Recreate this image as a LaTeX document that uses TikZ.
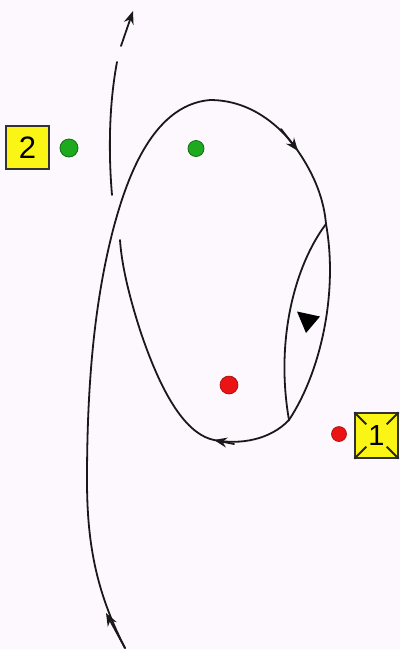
\documentclass[tikz,border=0pt]{standalone}
\usepackage{fontspec}
\setmainfont{Liberation Sans}
\usetikzlibrary{arrows.meta}
\definecolor{bgc}{RGB}{253,248,253}
\definecolor{ylw}{RGB}{250,245,20}
\definecolor{grn}{RGB}{30,170,30}
\definecolor{dgrn}{RGB}{20,110,20}
\definecolor{rd}{RGB}{235,20,20}
\definecolor{drd}{RGB}{160,10,10}
\tikzset{
  traj/.style={line width=1.8pt, black!90, line cap=round, line join=round},
  tipped/.style={traj, -{Stealth[length=13pt,width=10pt]}},
  ybox/.style={draw=black!80, line width=1.4pt, fill=ylw, minimum width=43pt, minimum height=43pt, inner sep=0pt, font=\fontsize{31}{31}\selectfont},
  gdot/.style={circle, fill=grn, draw=dgrn, line width=0.8pt, inner sep=0pt, minimum size=#1},
  rdot/.style={circle, fill=rd, draw=drd, line width=0.6pt, inner sep=0pt, minimum size=#1},
}
\begin{document}
\begin{tikzpicture}[x=1pt,y=-1pt]
\fill[bgc] (0,0) rectangle (400,649);
\useasboundingbox (0,0) rectangle (400,649);

% named points of the track
\coordinate (start) at (125,648);
\coordinate (a1) at (106,613);
\coordinate (cross) at (113,230);
\coordinate (top) at (210,100);
\coordinate (a2) at (298,151);
\coordinate (sailtop) at (326,224);
\coordinate (sailbot) at (289,420);
\coordinate (a3) at (214,440);
\coordinate (under1) at (120,240);
\coordinate (under2) at (112,195);
\coordinate (gapend) at (117,62);
\coordinate (tipstart) at (121,46);
\coordinate (tip) at (133,11);

% incoming track
\draw[traj] (start) .. controls (95,590) and (87,540) .. (87,480)
  .. controls (87,380) and (95,300) .. (cross)
  .. controls (125,185) and (150,105) .. (top)
  .. controls (250,100) and (280,125) .. (a2)
  .. controls (315,176) and (324,200) .. (sailtop);
\draw[tipped] (start) -- (a1);
\draw[tipped] (281,129) -- (a2);

% sail
\draw[traj] (sailtop) .. controls (338,290) and (322,370) .. (sailbot);
\draw[traj] (sailtop) .. controls (295,265) and (275,340) .. (sailbot);
\fill (297,311.5) -- (320,316.5) -- (306,333) -- cycle;

% outgoing track (passes under the incoming one)
\draw[traj] (sailbot) .. controls (270,440) and (240,445) .. (a3)
  .. controls (190,435) and (165,405) .. (140,330)
  .. controls (132,305) and (122,270) .. (under1);
\draw[traj] (under2) .. controls (109,160) and (108,110) .. (gapend);
\draw[tipped] (234,444) -- (a3);
\draw[tipped] (tipstart) -- (tip);

% marks
\node[ybox] (b2) at (27.5,147.5) {2};
\node[gdot=18pt] (g1) at (69,148) {};
\node[gdot=16pt] (g2) at (196,148.5) {};
\node[rdot=18pt] (r1) at (229,385) {};
\node[rdot=15pt] (r2) at (339,434) {};
\node[ybox, minimum width=43pt, minimum height=45pt, font=\fontsize{29}{29}\selectfont] (b1) at (376.5,435.5) {1};
\draw[line width=1.8pt, black!85] (b1.north west) -- ++(12,12) (b1.north east) -- ++(-12,12)
  (b1.south west) -- ++(12,-12) (b1.south east) -- ++(-12,-12);
\end{tikzpicture}
\end{document}
